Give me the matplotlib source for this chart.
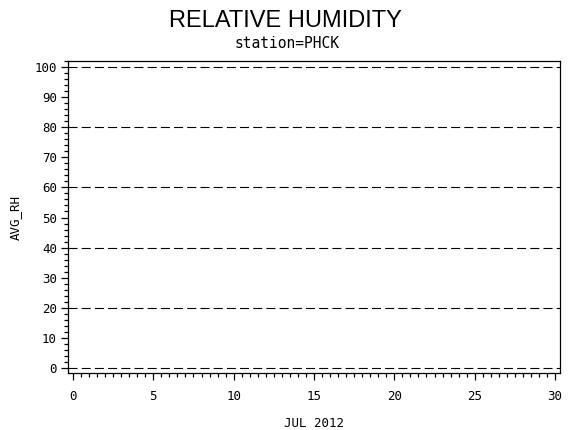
import matplotlib

matplotlib.use("Agg")
import matplotlib.pyplot as plt
from matplotlib.ticker import MultipleLocator

# Datos del gráfico (sin observaciones para la estación)
dias = []
humedad = []
ticks_x = [0, 5, 10, 15, 20, 25, 30]
ticks_y = [0, 10, 20, 30, 40, 50, 60, 70, 80, 90, 100]
lineas_ref = [0, 20, 40, 60, 80, 100]

titulo = "RELATIVE HUMIDITY"
subtitulo = "station=PHCK"
etiqueta_x = "JUL 2012"
etiqueta_y = "AVG_RH"

plt.rcParams["lines.scale_dashes"] = False
mono = "DejaVu Sans Mono"

fig = plt.figure(figsize=(5.7, 4.3), dpi=100)
ax = fig.add_axes([68 / 570, 1 - 373 / 430, 492 / 570, 312 / 430])

ax.plot(dias, humedad, color="black", linewidth=1)

# Líneas de referencia discontinuas
for v in lineas_ref:
    ax.axhline(v, color="black", linewidth=0.8, linestyle=(0, (6.5, 3.0)))

ax.set_xlim(-0.31, 30.31)
ax.set_ylim(-1.66, 102.0)
ax.set_xticks(ticks_x)
ax.set_yticks(ticks_y)
ax.xaxis.set_minor_locator(MultipleLocator(0.5))
ax.yaxis.set_minor_locator(MultipleLocator(2))

for spine in ax.spines.values():
    spine.set_linewidth(0.9)

ax.tick_params(axis="both", which="major", direction="out", length=5, width=0.9,
               labelsize=9, pad=3)
ax.tick_params(axis="x", which="major", pad=7)
ax.tick_params(axis="both", which="minor", direction="out", length=3, width=0.9)
for lbl in ax.get_xticklabels() + ax.get_yticklabels():
    lbl.set_fontfamily(mono)

ax.set_xlabel(etiqueta_x, fontsize=9, family=mono, labelpad=10)
ax.set_ylabel(etiqueta_y, fontsize=9, family=mono, labelpad=9)

fig.text(0.5, 1 - 21 / 430, titulo, ha="center", va="center",
         fontsize=17, family="Liberation Sans")
fig.text(0.503, 1 - 44 / 430, subtitulo, ha="center", va="center",
         fontsize=10.5, family=mono)

plt.savefig("out.png", dpi=100)
plt.close()
